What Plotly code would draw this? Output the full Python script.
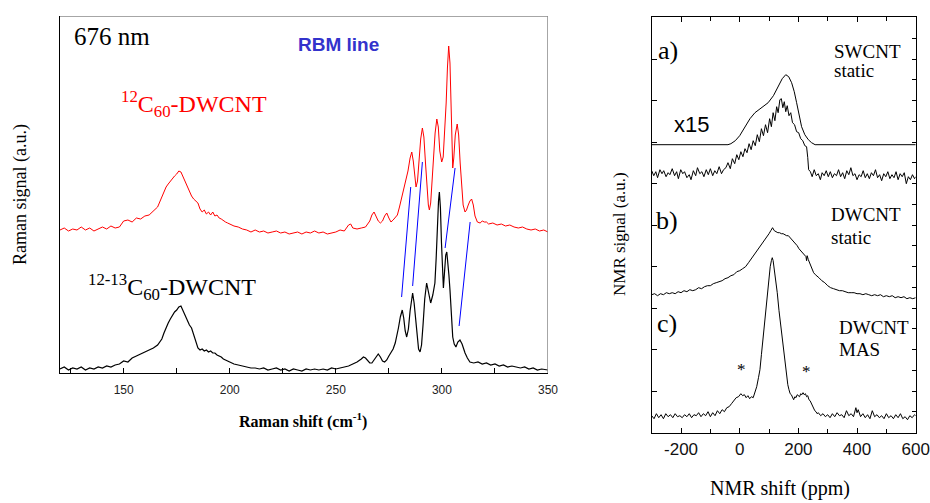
import plotly.graph_objects as go

# ---------------- Raman data (x: Raman shift cm-1, y: signal a.u.) ----------------
red_spectrum = [
    (120,143),(122,145),(124,142),(126,144),(128,143),(130,146),(132,143),(134,145),(136,142),(138,144),
    (140,146),(142,144),(144,147),(146,145),(148,146),(150,152),(152,153),(154,151),(156,155),(158,154),
    (160,157),(162,158),(164,162),(166,166),(168,176),(169,182),(170,186),(171,189),(172,192),(173,195),
    (174,197),(175,199),(176,202),(177,201),(178,196),(179,191),(180,186),(181,181),(182,177),(183,174),
    (184,172),(185,170),(186,164),(187,161),(188,163),(189,159),(190,161),(191,158),(192,161),(193,157),
    (194,158),(195,155),(196,154),(197,152),(198,151),(199,150),(200,149),(202,147),(204,146),(206,144),
    (208,143),(210,141),(212,143),(214,141),(216,142),(218,140),(220,141),(222,142),(224,140),(226,141),
    (228,139),(230,140),(232,141),(234,139),(236,141),(238,140),(240,142),(242,140),(244,141),(246,139),
    (248,140),(250,141),(252,143),(254,142),(256,148),(257,149),(258,145),(260,144),(262,145),(264,146),
    (266,152),(267,158),(268,161),(269,156),(270,152),(271,150),(272,152),(273,157),(274,160),(275,155),
    (276,151),(277,153),(278,155),(279,158),(280,166),(281,175),(282,183),(283,190),(284,202),(285,215),
    (285.8,221),(286.5,212),(287.2,195),(287.8,186),(288.5,192),(289.2,210),(290,234),(290.8,245),(291.5,236),
    (292.2,212),(293,185),(293.6,168),(294.1,163),(294.7,170),(295.3,190),(296,215),(296.8,240),(297.6,254),
    (298.3,246),(299,222),(299.9,211),(300.6,216),(301.3,238),(302,270),(302.6,305),(303.2,327),(303.8,310),
    (304.3,265),(304.8,215),(305.1,205),(305.6,215),(306.3,238),(307.2,249),(307.9,238),(308.6,210),(309.3,185),
    (310,168),(310.9,161),(311.6,163),(312.4,168),(313.2,172),(314,174),(314.8,168),(315.6,157),(316.7,151),
    (318,150),(319,152),(320,151),(321,151),(322,149),(324,150),(326,148),(328,149),(330,147),(332,148),
    (334,146),(336,145),(338,146),(340,144),(342,143),(344,144),(346,142),(348,143),(350,141),
]

black_spectrum = [
    (120,4),(122,6),(124,3),(126,5),(128,4),(130,6),(132,3),(134,5),(136,4),(138,6),(140,5),(142,7),
    (144,6),(146,8),(148,9),(150,12),(152,11),(154,15),(156,17),(158,19),(160,21),(162,23),(164,25),
    (166,28),(168,34),(169,40),(170,46),(171,50),(172,54),(173,58),(174,61),(175,63),(176,66),(177,67),
    (178,62),(179,57),(180,52),(181,48),(182,45),(183,38),(184,30),(185,25),(186,23),(187,24),(188,22),
    (189,23),(190,21),(191,22),(192,20),(193,20),(194,18),(195,17),(196,16),(197,14),(198,13),(199,12),
    (200,11),(202,9),(204,8),(206,7),(208,6),(210,5),(212,5),(214,4),(216,5),(218,3),(220,4),(222,5),
    (224,3),(226,4),(228,2),(230,4),(232,3),(234,2),(236,4),(238,3),(240,4),(242,3),(244,4),(246,3),
    (248,5),(250,4),(252,5),(254,6),(256,7),(258,9),(260,11),(262,14),(263,16),(264,15),(265,12),(266,10),
    (267,10),(268,13),(269,17),(270,19),(271,16),(272,12),(273,11),(274,13),(275,17),(276,20),(277,24),
    (278,30),(278.7,36),(279.5,45),(280.4,56),(281.3,63),(282,55),(282.7,42),(283.4,36),(284.2,44),(285,62),
    (285.6,74),(286.2,80),(286.9,70),(287.6,52),(288.3,34),(289,24),(289.7,21),(290.4,28),(291.1,48),
    (291.9,74),(292.8,90),(293.7,80),(294.7,70),(295.7,78),(296.7,90),(297.3,115),(297.9,150),(298.4,172),
    (298.8,181),(299.3,165),(299.8,130),(300.3,95),(300.7,85),(301.2,100),(301.8,118),(302.3,121),(302.8,112),
    (303.3,98),(303.8,83),(304.4,58),(305.1,36),(305.8,29),(306.6,26),(307.5,31),(308.5,33),(309.5,29),
    (310.2,24),(310.9,20),(312,15),(313.2,11),(315,10),(317,11),(319,9),(321,10),(323,8),(325,9),(327,7),
    (329,8),(331,6),(333,7),(335,6),(337,5),(339,6),(341,4),(343,5),(345,3),(347,4),(349,3),(350,3),
]

# RBM correlation lines: (x_top, y_top, x_bottom, y_bottom)
rbm_lines = [
    (285.3, 186, 281.0, 76),
    (290.8, 211, 286.2, 87),
    (306.2, 205, 301.5, 125),
    (313.3, 151, 308.1, 47),
]

# ---------------- NMR data (x: shift ppm, y: signal a.u., stacked) ----------------
nmr_a_fit = [
    (-300,288),(-40,288),(-30,289),(-15,292),(0,297),(18,306),(35,314),(52,320),(75,325),(97,330),
    (115,337),(132,346),(145,354),(157,358),(167,356),(177,350),(186,341),(194,330),(203,318),(211,306),
    (222,298),(234,293),(245,290),(257,288),(600,288),
]

nmr_a_data = [
    (-300,262),(-293,257),(-286,261),(-280,255),(-272,263),(-265,259),(-259,262),(-251,256),(-244,260),
    (-238,258),(-230,264),(-222,257),(-215,261),(-209,254),(-201,263),(-194,259),(-188,261),(-180,255),
    (-172,258),(-166,253),(-158,262),(-150,257),(-144,265),(-136,259),(-129,261),(-122,256),(-114,263),
    (-107,258),(-100,264),(-92,257),(-85,262),(-78,259),(-70,266),(-62,259),(-55,263),(-47,265),(-40,270),
    (-32,264),(-25,274),(-17,269),(-10,278),(-3,273),(4,281),(11,276),(18,284),(25,280),(32,289),(39,283),
    (46,292),(53,287),(60,298),(67,291),(74,304),(81,297),(88,308),(95,300),(102,314),(108,306),(114,320),
    (120,312),(126,326),(131,320),(137,333),(142,334),(147,325),(152,331),(157,321),(162,327),(168,317),
    (174,320),(180,310),(187,308),(194,301),(201,300),(208,294),(215,292),(222,287),(228,286),(232,275),
    (235,263),(241,261),(247,256),(254,263),(261,257),(268,259),(275,253),(281,260),(288,257),(295,262),
    (302,256),(309,261),(316,255),(323,259),(330,257),(337,263),(344,256),(351,260),(358,254),(365,262),
    (372,258),(379,265),(386,257),(393,259),(400,253),(407,258),(414,256),(421,262),(428,255),(435,259),
    (442,254),(449,260),(456,257),(463,263),(470,255),(477,258),(484,252),(491,259),(498,256),(505,261),
    (512,254),(519,258),(526,255),(533,261),(540,253),(547,259),(554,256),(561,260),(568,249),(575,256),
    (582,253),(589,258),(596,254),(600,256),
]

nmr_b_data = [
    (-300,138),(-290,139),(-280,137),(-270,139),(-260,138),(-250,140),(-240,139),(-230,140),(-220,139),
    (-210,141),(-200,140),(-190,142),(-180,141),(-170,143),(-160,142),(-150,143),(-140,145),(-130,144),
    (-120,146),(-110,147),(-100,147),(-90,149),(-80,150),(-70,151),(-60,152),(-50,154),(-40,155),(-30,157),
    (-20,158),(-10,161),(0,162),(10,164),(20,166),(30,170),(40,174),(50,178),(60,183),(70,187),(80,191),
    (90,195),(100,199),(106,202),(112,205),(118,202),(124,201),(130,200),(136,200),(142,199),(148,199),
    (154,198),(160,197),(166,197),(172,195),(178,194),(184,192),(190,190),(196,187),(202,184),(208,182),
    (214,180),(220,179),(226,176),(228,172),(230,177),(234,173),(240,168),(246,163),(252,160),(258,158),
    (264,156),(270,155),(280,152),(290,150),(300,147),(310,145),(320,144),(330,143),(340,142),(350,142),
    (360,141),(370,140),(380,140),(390,140),(400,139),(410,139),(420,138),(430,139),(440,138),(450,137),
    (460,138),(470,137),(480,138),(490,136),(500,137),(510,136),(520,137),(530,135),(540,136),(550,135),
    (560,136),(570,134),(580,135),(590,134),(600,135),
]

nmr_c_data = [
    (-300,17),(-292,14),(-284,19),(-276,15),(-268,18),(-260,14),(-252,19),(-244,16),(-236,18),(-228,15),
    (-220,19),(-212,16),(-204,17),(-196,15),(-188,18),(-180,16),(-172,19),(-164,15),(-156,18),(-148,17),
    (-140,20),(-132,16),(-124,19),(-116,17),(-108,21),(-100,16),(-92,20),(-84,17),(-76,22),(-68,19),
    (-60,23),(-52,21),(-44,25),(-36,26),(-28,29),(-20,32),(-12,35),(-4,36),(4,39),(10,37),(16,38),
    (22,35),(28,37),(34,34),(40,36),(46,35),(52,40),(58,46),(64,55),(69,63),(74,78),(80,95),(86,115),
    (92,132),(98,152),(104,166),(108,172),(111,175),(114,172),(118,164),(122,156),(128,140),(134,122),
    (139,110),(143,100),(148,87),(152,76),(156,64),(160,56),(164,48),(168,43),(172,39),(176,38),(180,35),
    (184,33),(188,36),(192,35),(196,38),(200,37),(204,36),(208,39),(212,38),(216,40),(220,38),(224,39),
    (228,36),(232,37),(236,33),(240,32),(244,29),(248,27),(252,25),(256,22),(260,21),(264,19),(268,20),
    (276,17),(284,19),(292,16),(300,18),(308,15),(316,19),(324,16),(332,20),(340,17),(348,18),(356,15),
    (364,22),(372,17),(380,19),(388,16),(396,25),(400,20),(404,23),(412,16),(420,19),(428,15),(436,18),
    (444,14),(452,22),(460,16),(468,18),(476,15),(484,17),(492,14),(500,19),(508,15),(516,17),(524,14),
    (532,18),(540,15),(548,19),(556,14),(564,16),(572,13),(580,17),(588,15),(596,18),(600,17),
]

raman_xticks = [150, 200, 250, 300, 350]
raman_minor = [125, 175, 225, 275, 325]
nmr_xticks = [-200, 0, 200, 400, 600]
nmr_xticktext = ["-200", "0", "200", "400", "600"]
nmr_minor = [-300, -100, 100, 300, 500]

# ---------------- figure ----------------
# The page is captured slightly squeezed horizontally, so the canvas is a bit wider
# than the picture; positions are given in picture pixels (930 wide).
W, H = 944, 503
REF_W = 930
SERIF = "Liberation Serif"
SANS = "Liberation Sans"


def px(x):
    return x / REF_W


def py(y):
    return 1 - y / H


def unzip(pairs):
    return [p[0] for p in pairs], [p[1] for p in pairs]


fig = go.Figure()

rx, ry = unzip(red_spectrum)
bx, by = unzip(black_spectrum)
fig.add_trace(go.Scatter(x=rx, y=ry, mode="lines", line=dict(color="#ff0000", width=1),
                         xaxis="x", yaxis="y", showlegend=False))
fig.add_trace(go.Scatter(x=bx, y=by, mode="lines", line=dict(color="#000000", width=1.2),
                         xaxis="x", yaxis="y", showlegend=False))
lx, ly = [], []
for x0, y0, x1, y1 in rbm_lines:
    lx += [x0, x1, None]
    ly += [y0, y1, None]
fig.add_trace(go.Scatter(x=lx, y=ly, mode="lines", line=dict(color="#0000ff", width=1),
                         xaxis="x", yaxis="y", showlegend=False))

for pairs in (nmr_a_fit, nmr_a_data, nmr_b_data, nmr_c_data):
    nx, ny = unzip(pairs)
    fig.add_trace(go.Scatter(x=nx, y=ny, mode="lines", line=dict(color="#000000", width=1),
                             xaxis="x2", yaxis="y2", showlegend=False))
# carrier for right-side minor tick axis
fig.add_trace(go.Scatter(x=[None], y=[None], xaxis="x2", yaxis="y3", showlegend=False))

RAMAN_YMAX = 357
NMR_YMAX = 415.4

fig.update_layout(
    width=W, height=H, autosize=False,
    margin=dict(l=0, r=0, t=0, b=0),
    paper_bgcolor="white", plot_bgcolor="white",
    xaxis=dict(domain=[px(60), px(548)], range=[120, 350], anchor="y",
               showline=True, linecolor="black", linewidth=1,
               ticks="inside", ticklen=5, tickcolor="black",
               tickvals=raman_xticks,
               minor=dict(tickvals=raman_minor, ticks="inside", ticklen=5, tickcolor="black"),
               showgrid=False, zeroline=False,
               tickfont=dict(family=SANS, size=12, color="#222"), ticklabelstandoff=6),
    yaxis=dict(domain=[py(373), py(16)], range=[0, RAMAN_YMAX], anchor="x",
               showline=True, linecolor="black", linewidth=1,
               ticks="", showticklabels=False, showgrid=False, zeroline=False),
    xaxis2=dict(domain=[px(651.7), px(915.7)], range=[-300, 600], anchor="y2",
                showline=True, mirror="ticks", linecolor="black", linewidth=1,
                ticks="inside", ticklen=5, tickcolor="black",
                tickvals=nmr_xticks, ticktext=nmr_xticktext,
                minor=dict(tickvals=nmr_minor, ticks="inside", ticklen=4, tickcolor="black"),
                showgrid=False, zeroline=False,
                tickfont=dict(family=SANS, size=17, color="#111"), ticklabelstandoff=1),
    yaxis2=dict(domain=[py(432.7), py(17.3)], range=[0, NMR_YMAX], anchor="x2",
                showline=True, mirror=True, linecolor="black", linewidth=1,
                ticks="inside", ticklen=5, tickcolor="black", tick0=0, dtick=41.5,
                showticklabels=False, showgrid=False, zeroline=False),
    yaxis3=dict(overlaying="y2", side="right", anchor="x2", range=[0, NMR_YMAX],
                showline=False, ticks="inside", ticklen=4, tickcolor="black",
                tick0=0, dtick=20.75, showticklabels=False, showgrid=False, zeroline=False),
)

# gray top / right frame of Raman panel
fig.add_shape(type="line", xref="x", yref="y", x0=120, x1=350, y0=RAMAN_YMAX, y1=RAMAN_YMAX,
              line=dict(color="#888888", width=1.5))
fig.add_shape(type="line", xref="x", yref="y", x0=350, x1=350, y0=0, y1=RAMAN_YMAX,
              line=dict(color="#888888", width=1.5))


def note(text, x, y, size, family=SERIF, color="black", xanchor="left", yanchor="middle", angle=0):
    fig.add_annotation(text=text, x=px(x), y=py(y), xref="paper", yref="paper",
                       xanchor=xanchor, yanchor=yanchor, showarrow=False, textangle=angle,
                       font=dict(family=family, size=size, color=color))


# Raman panel texts
note("676 nm", 72, 37, 25)
note("<b>RBM line</b>", 296, 44, 19, family=SANS, color="#3333cc")
note("<sup>12</sup>C<sub>60</sub>-DWCNT", 119, 104, 24, color="#ff0000")
note("<sup>12-13</sup>C<sub>60</sub>-DWCNT", 86, 287, 24)
note("<b>Raman shift (cm<sup>-1</sup>)</b>", 303, 420, 16, xanchor="center")
note("Raman signal (a.u.)", 21, 195, 18, xanchor="center", angle=-90)

# NMR panel texts
note("a)", 656, 50, 26)
note("SWCNT", 832, 52, 19)
note("static", 832, 70, 19)
note("x15", 672, 125, 22, family=SANS)
note("b)", 654, 220, 26)
note("DWCNT", 829, 214, 19)
note("static", 829, 237, 19)
note("c)", 655, 323, 26)
note("DWCNT", 837, 327, 19)
note("MAS", 837, 349, 19)
note("*", 741, 369, 17, xanchor="center")
note("*", 806, 371, 17, xanchor="center")
note("NMR shift (ppm)", 780, 488, 20, xanchor="center")
note("NMR signal (a.u.)", 620, 234, 17, xanchor="center", angle=-90)

fig.write_html("out.html", config={"responsive": False})
